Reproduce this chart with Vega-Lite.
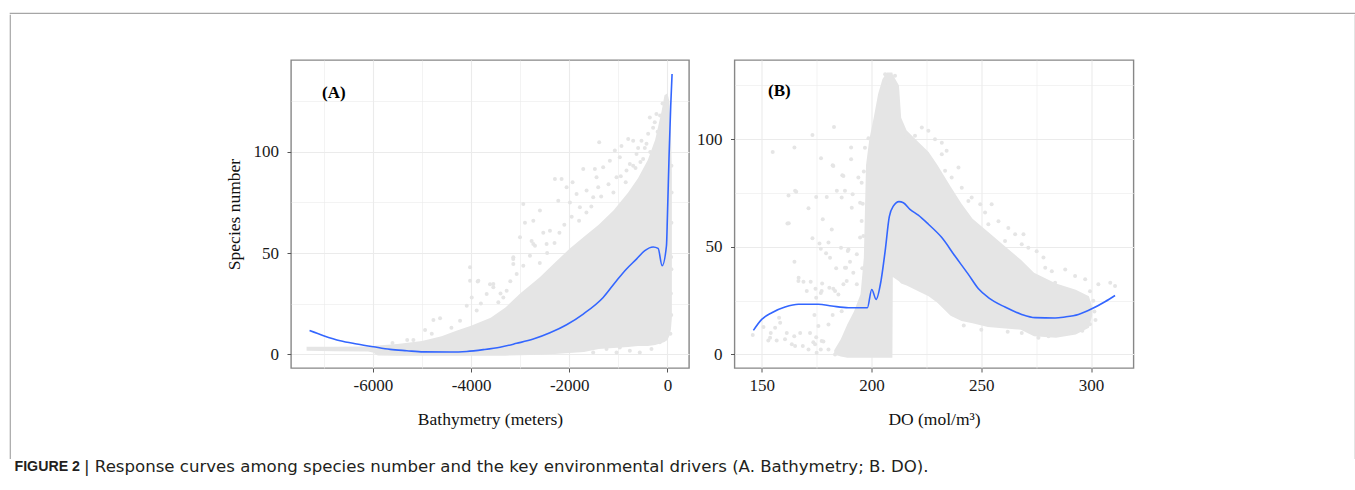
{
 "$schema": "https://vega.github.io/schema/vega-lite/v6.json",
 "background": "white",
 "padding": {"left": 9, "top": 12, "right": 0, "bottom": 0},
 "spacing": 0,
 "datasets": {
  "aArea": [
   {"x":-7350,"y":1.6,"y2":3.6},{"x":-6800,"y":1.4,"y2":3.6},{"x":-6100,"y":1.3,"y2":3.8},{"x":-6000,"y":0.8,"y2":4.0},
   {"x":-5900,"y":-0.7,"y2":4.2},{"x":-5500,"y":-0.8,"y2":5.0},{"x":-5000,"y":-0.8,"y2":6.5},{"x":-4600,"y":-0.8,"y2":8.8},
   {"x":-4300,"y":-0.8,"y2":11.5},{"x":-4000,"y":-0.8,"y2":14},{"x":-3600,"y":-0.8,"y2":18},{"x":-3300,"y":-0.8,"y2":23},
   {"x":-3000,"y":-0.6,"y2":30},{"x":-2600,"y":-0.4,"y2":38},{"x":-2300,"y":0,"y2":45},{"x":-2000,"y":0.5,"y2":52},
   {"x":-1700,"y":1,"y2":58},{"x":-1400,"y":2.5,"y2":64},{"x":-1100,"y":3,"y2":71},{"x":-800,"y":3.5,"y2":80},
   {"x":-600,"y":4,"y2":87},{"x":-400,"y":4,"y2":96},{"x":-250,"y":4.5,"y2":106},{"x":-120,"y":5.5,"y2":120},
   {"x":-60,"y":6,"y2":128},{"x":0,"y":7,"y2":129},{"x":40,"y":9,"y2":125},{"x":70,"y":12,"y2":110},{"x":90,"y":18,"y2":90}
  ],
  "aPts": [
   {"x":-4021,"y":42.9},{"x":-3865,"y":35.9},{"x":-4767,"y":16.8},{"x":-4631,"y":17.7},{"x":-4936,"y":11.9},{"x":-5174,"y":6.9},
   {"x":-3986,"y":28},{"x":-4088,"y":23.9},{"x":-4224,"y":16.5},{"x":-3614,"y":34.6},{"x":-3546,"y":33},{"x":-3140,"y":47},
   {"x":-3071,"y":39.6},{"x":-2936,"y":43.7},{"x":-2800,"y":48.7},{"x":-2698,"y":53.6},{"x":-2766,"y":56},{"x":-3275,"y":31.3},
   {"x":-3343,"y":28},{"x":-3444,"y":25.6},{"x":-3885,"y":21.5},{"x":-3682,"y":29.7},
   {"x":-2936,"y":74.3},{"x":-2902,"y":65},{"x":-2529,"y":60},{"x":-2393,"y":61},{"x":-2292,"y":86.6},{"x":-2156,"y":86.6},
   {"x":-2054,"y":82.5},{"x":-1932,"y":85},{"x":-1715,"y":91.6},{"x":-1478,"y":91.6},{"x":-1444,"y":87.5},{"x":-1390,"y":104.8},
   {"x":-1071,"y":100.7},{"x":-936,"y":103},{"x":-766,"y":94},{"x":-698,"y":105.6},{"x":-800,"y":106.4},{"x":-461,"y":102},
   {"x":-359,"y":117},{"x":-393,"y":109},{"x":-224,"y":118.8},{"x":-3139,"y":47.9},{"x":-2732,"y":54.5},{"x":-2597,"y":71},
   {"x":-2461,"y":54.5},{"x":-2224,"y":75.9},{"x":-1851,"y":79.2},{"x":-1647,"y":80.9},{"x":-1512,"y":77.6},{"x":-1309,"y":92.4},
   {"x":-1173,"y":95.7},{"x":-970,"y":97.4},{"x":-630,"y":99},{"x":-529,"y":105.6},{"x":-292,"y":112},{"x":-4020,"y":36.3},
   {"x":-3851,"y":36.3},{"x":-3546,"y":34.7},{"x":-3139,"y":44.6},{"x":-3003,"y":57.8},{"x":-2732,"y":66},{"x":-1986,"y":75},
   {"x":-1783,"y":72.6},{"x":-1410,"y":82.5},{"x":-1037,"y":87.5},{"x":-834,"y":90.8},{"x":-698,"y":93.2},{"x":-495,"y":96.5},
   {"x":-597,"y":102},{"x":-427,"y":104},{"x":-258,"y":114.7},
   {"x":-1513,"y":0.8},{"x":-1241,"y":2.5},{"x":-970,"y":3.3},{"x":-766,"y":1.6},{"x":-563,"y":0.8},{"x":-325,"y":2.5},
   {"x":-156,"y":5.8},{"x":-359,"y":6.6},{"x":-1037,"y":0.8},{"x":-1377,"y":4.1},
   {"x":81,"y":93.2},{"x":81,"y":65},{"x":80,"y":42},{"x":78,"y":19.3},{"x":75,"y":48},{"x":70,"y":30},{"x":85,"y":80},{"x":60,"y":10},
   {"x":-2600,"y":45},{"x":-2450,"y":50},{"x":-2300,"y":55},{"x":-2200,"y":60},{"x":-2100,"y":64},{"x":-1950,"y":68},
   {"x":-1800,"y":66},{"x":-1650,"y":70},{"x":-1550,"y":73},{"x":-1350,"y":78},{"x":-1200,"y":84},{"x":-1100,"y":80},
   {"x":-950,"y":88},{"x":-850,"y":85},{"x":-650,"y":92},{"x":-550,"y":95},{"x":-350,"y":100},{"x":-200,"y":110},
   {"x":-150,"y":118},{"x":-100,"y":124},{"x":-3200,"y":36},{"x":-3400,"y":30},{"x":-3800,"y":25},{"x":-4400,"y":13},
   {"x":-4800,"y":10},{"x":-5300,"y":7},{"x":-5600,"y":5.5}
  ],
  "aLine": [
   {"x":-7289,"y":11.6},{"x":-7004,"y":9.1},{"x":-6665,"y":6.6},{"x":-6326,"y":5.0},{"x":-5987,"y":3.6},{"x":-5648,"y":2.3},
   {"x":-5309,"y":1.65},{"x":-4970,"y":1.1},{"x":-4427,"y":1.0},{"x":-4088,"y":1.3},{"x":-3749,"y":2.2},{"x":-3410,"y":3.4},
   {"x":-3071,"y":5.3},{"x":-2732,"y":7.4},{"x":-2393,"y":10.5},{"x":-2054,"y":14.5},{"x":-1715,"y":19.8},{"x":-1309,"y":28},
   {"x":-1037,"y":36.3},{"x":-834,"y":42.1},{"x":-631,"y":47},{"x":-461,"y":51.2},{"x":-292,"y":53},{"x":-190,"y":52.3},
   {"x":-108,"y":43.7},{"x":-20,"y":53.6},{"x":0,"y":68.5},{"x":33,"y":98},{"x":67,"y":123},{"x":94,"y":138.6}
  ],
  "bArea": [
   {"x":183,"y":0,"y2":2},{"x":186,"y":-1,"y2":7},{"x":189,"y":-1.5,"y2":14},{"x":192,"y":-1.5,"y2":20},{"x":195,"y":-1.5,"y2":28},
   {"x":196.5,"y":-1.5,"y2":45},{"x":197.5,"y":-1.5,"y2":88},{"x":199,"y":-1.5,"y2":100},{"x":201,"y":-1.5,"y2":110},
   {"x":203,"y":-1.5,"y2":121},{"x":205,"y":-1.5,"y2":128},{"x":207,"y":-1.5,"y2":131},{"x":209.5,"y":-1.5,"y2":131},
   {"x":209.7,"y":36,"y2":130},{"x":212.5,"y":34,"y2":125},{"x":213.5,"y":33,"y2":110},{"x":216,"y":32,"y2":104},
   {"x":222,"y":29,"y2":98},{"x":226,"y":27,"y2":94},{"x":230,"y":24,"y2":88},{"x":236,"y":18,"y2":78},{"x":241,"y":15.5,"y2":70},
   {"x":246,"y":14.5,"y2":63},{"x":253,"y":12.7,"y2":57},{"x":261,"y":12,"y2":50},{"x":268,"y":11.5,"y2":44},{"x":274,"y":8.5,"y2":38},
   {"x":284,"y":7.8,"y2":33},{"x":293,"y":9.3,"y2":30},{"x":299,"y":12.4,"y2":27},{"x":300.5,"y":18,"y2":22}
  ],
  "bPts": [
   {"x":155,"y":94.1},{"x":177,"y":91.2},{"x":182.3,"y":87.9},{"x":162.2,"y":73.9},{"x":165.7,"y":75.6},{"x":174.8,"y":73.2},
   {"x":179.6,"y":73.2},{"x":171.3,"y":67.9},{"x":177.8,"y":62.8},{"x":184.2,"y":76},{"x":186.7,"y":83.3},{"x":162.3,"y":60.9},
   {"x":173.1,"y":54},{"x":176.3,"y":51.6},{"x":176.9,"y":49.1},{"x":179.3,"y":47},{"x":181.1,"y":44.9},{"x":183.9,"y":40},
   {"x":164.9,"y":43.1},{"x":166.8,"y":35.6},{"x":169,"y":33.8},{"x":172.3,"y":33.8},{"x":174.5,"y":30.5},{"x":177.5,"y":33},
   {"x":180.8,"y":31},{"x":182.6,"y":30.5},{"x":184.9,"y":27.9},{"x":174.8,"y":26.3},{"x":176.9,"y":28.6},{"x":167.5,"y":10},
   {"x":158.4,"y":14.7},{"x":154.1,"y":10},{"x":150.8,"y":12.7},{"x":145.9,"y":9},{"x":153,"y":6.5},{"x":156.8,"y":6.5},
   {"x":161.4,"y":10},{"x":164.8,"y":8.5},{"x":165.2,"y":3.9},{"x":168.7,"y":3.9},{"x":173.5,"y":5.7},{"x":174.8,"y":8},
   {"x":176.9,"y":2.3},{"x":178.1,"y":6},{"x":172,"y":10},{"x":174,"y":18.3},{"x":175.8,"y":13.2},{"x":180.4,"y":13.9},
   {"x":182.3,"y":18.3},{"x":186.4,"y":20.1},{"x":189.5,"y":48.8},{"x":188.4,"y":40.3},{"x":190.2,"y":43.1},{"x":188.7,"y":34.1},
   {"x":173.1,"y":102},{"x":182.9,"y":105.7},{"x":190.7,"y":96.1},{"x":190.7,"y":90.7},{"x":182.6,"y":87.6},{"x":187.2,"y":82.9},
   {"x":194,"y":82.2},{"x":195.5,"y":79.8},{"x":187.9,"y":76},{"x":191.4,"y":74.4},{"x":186.4,"y":72.9},{"x":191,"y":68.2},
   {"x":194.8,"y":70.5},{"x":195.5,"y":62},{"x":181.9,"y":58.1},{"x":180.4,"y":52},{"x":186.1,"y":49.6},{"x":189.2,"y":48.1},
   {"x":193.3,"y":46.5},{"x":194.8,"y":54.3},{"x":187.9,"y":40.3},{"x":191.7,"y":38},{"x":187.2,"y":32.6},{"x":183.4,"y":29.5},
   {"x":193.3,"y":32.6},{"x":165.2,"y":76},{"x":161.7,"y":60.8},{"x":166.7,"y":34.1},{"x":170.5,"y":29.5},{"x":177.3,"y":29.5},
   {"x":157.9,"y":17.1},{"x":156.1,"y":12.4},{"x":153.8,"y":7.8},{"x":160.6,"y":7},{"x":163.7,"y":4.7},{"x":174.3,"y":4.7},
   {"x":177.3,"y":6.2},{"x":171.3,"y":2.3},{"x":175,"y":0.8},{"x":180.4,"y":2.3},{"x":183.4,"y":0},{"x":164.9,"y":96.1},
   {"x":206.2,"y":130.2},{"x":210.7,"y":129.5},{"x":207.7,"y":125.6},{"x":222.9,"y":105.4},{"x":225.9,"y":103.9},{"x":228.9,"y":100},
   {"x":232,"y":98.4},{"x":234.2,"y":94.6},{"x":219.8,"y":101.6},{"x":215.3,"y":100.8},{"x":198.6,"y":100.5},{"x":197,"y":96},
   {"x":196.5,"y":85},{"x":196,"y":70},{"x":196.3,"y":55},{"x":195.8,"y":40},
   {"x":232,"y":93},{"x":239.6,"y":86.8},{"x":245.6,"y":72.9},{"x":249.5,"y":69.8},{"x":254.7,"y":69.8},{"x":257.8,"y":61.9},
   {"x":262.3,"y":58.8},{"x":269.2,"y":55.8},{"x":275.2,"y":48},{"x":278.3,"y":45},{"x":282.1,"y":38.7},{"x":288.2,"y":39.5},
   {"x":292.7,"y":36.4},{"x":297.3,"y":34.9},{"x":303.3,"y":32.6},{"x":308.7,"y":33.3},{"x":310.9,"y":31.8},{"x":286.6,"y":31},
   {"x":289.7,"y":27.9},{"x":283.6,"y":33.3},{"x":271.4,"y":49.6},{"x":265.4,"y":55.8},{"x":260.8,"y":52.7},{"x":253.2,"y":60.5},
   {"x":244.1,"y":71.3},{"x":241.1,"y":77.5},{"x":236.5,"y":82.2},{"x":233.5,"y":85.3},{"x":251.7,"y":65.9},{"x":268.4,"y":51.2},
   {"x":279.1,"y":40.3},{"x":299.5,"y":29.4},
   {"x":276,"y":7.7},{"x":268.4,"y":10},{"x":280.6,"y":8.5},{"x":290.7,"y":10},{"x":296,"y":11},{"x":299.5,"y":14},{"x":250,"y":11.5},
   {"x":242,"y":13.5},{"x":262,"y":10.5},{"x":301.5,"y":20},{"x":301,"y":25},{"x":302,"y":16}
  ],
  "bLine": [
   {"x":146.2,"y":11.2},{"x":150,"y":16.3},{"x":154.6,"y":19.4},{"x":160.6,"y":22},{"x":166.7,"y":23.3},{"x":175.8,"y":23.3},
   {"x":181.9,"y":22.5},{"x":189.5,"y":21.7},{"x":198.1,"y":21.7},{"x":200.1,"y":30.2},{"x":202.1,"y":25.6},{"x":204.3,"y":34.1},
   {"x":206.2,"y":48},{"x":208.1,"y":64},{"x":210,"y":69},{"x":212.5,"y":71},{"x":214.5,"y":70.5},{"x":217.5,"y":67.4},
   {"x":221.3,"y":64.7},{"x":225.9,"y":60.5},{"x":232,"y":54.3},{"x":238,"y":45.7},{"x":244.1,"y":37.2},{"x":248.7,"y":30.5},
   {"x":253.2,"y":26.4},{"x":260.8,"y":22},{"x":268.4,"y":18.6},{"x":274.5,"y":17.1},{"x":283.6,"y":16.9},{"x":288.1,"y":17.4},
   {"x":294.2,"y":18.6},{"x":300.3,"y":21.2},{"x":306.3,"y":24.5},{"x":310.9,"y":27.4}
  ],
  "labels": [
   {"panel":"A","x":-6794,"y":129.2,"t":"(A)"},
   {"panel":"B","x":158.0,"y":122.2,"t":"(B)"}
  ]
 },
 "vconcat": [
  {"width": 1345, "height": 0.001, "view": {"stroke": "#a6a6a6", "strokeWidth": 1.2}, "data": {"values": []}, "mark": "point", "encoding": {}},
  {"spacing": 213, "hconcat": [
    {"width": 0.001, "height": 443, "view": {"stroke": "#a6a6a6", "strokeWidth": 1.2}, "data": {"values": []}, "mark": "point", "encoding": {}},
    {"spacing": 219, "hconcat": [
      {"spacing": 0, "vconcat": [
        {"width": 1, "height": 44, "data": {"values": []}, "mark": "point", "encoding": {}},
        {"spacing": 5.5, "hconcat": [
          {"width": 398, "height": 308, "view": {"stroke": "#878787", "strokeWidth": 1.4},
           "layer": [
            {"data": {"name": "aArea"}, "mark": {"type": "area", "color": "#e5e5e5", "opacity": 1, "clip": true},
             "encoding": {
              "x": {"field": "x", "type": "quantitative", "title": "Bathymetry (meters)",
                    "scale": {"domain": [-7667, 439], "nice": false, "zero": false},
                    "axis": {"values": [-7000, -6000, -5000, -4000, -3000, -2000, -1000, 0],
                             "labelExpr": "datum.value % 2000 === 0 ? '' + datum.value : ''",
                             "tickOpacity": {"condition": {"test": "datum.value % 2000 === 0", "value": 1}, "value": 0},
                             "gridWidth": {"condition": {"test": "datum.value % 2000 === 0", "value": 1.1}, "value": 0.6}}},
              "y": {"field": "y", "type": "quantitative", "title": "Species number",
                    "scale": {"domain": [-6.9, 145.5], "nice": false, "zero": false},
                    "axis": {"values": [0, 25, 50, 75, 100, 125],
                             "labelExpr": "datum.value % 50 === 0 ? '' + datum.value : ''",
                             "tickOpacity": {"condition": {"test": "datum.value % 50 === 0", "value": 1}, "value": 0},
                             "gridWidth": {"condition": {"test": "datum.value % 50 === 0", "value": 1.1}, "value": 0.6}}},
              "y2": {"field": "y2"}
             }},
            {"data": {"name": "aPts"}, "mark": {"type": "circle", "size": 16, "color": "#e5e5e5", "opacity": 1, "clip": true},
             "encoding": {"x": {"field": "x", "type": "quantitative", "title": "Bathymetry (meters)"},
                          "y": {"field": "y", "type": "quantitative", "title": "Species number"}}},
            {"data": {"name": "aLine"}, "mark": {"type": "line", "color": "#3366ff", "strokeWidth": 1.6, "interpolate": "monotone", "clip": true},
             "encoding": {"x": {"field": "x", "type": "quantitative", "title": "Bathymetry (meters)"},
                          "y": {"field": "y", "type": "quantitative", "title": "Species number"}}},
            {"data": {"name": "labels"}, "transform": [{"filter": "datum.panel === 'A'"}],
             "mark": {"type": "text", "font": "Liberation Serif", "fontWeight": "bold", "fontSize": 17, "color": "#000000", "align": "center", "baseline": "middle"},
             "encoding": {"x": {"field": "x", "type": "quantitative", "title": "Bathymetry (meters)"},
                          "y": {"field": "y", "type": "quantitative", "title": "Species number"},
                          "text": {"field": "t"}}}
           ]},
          {"width": 399, "height": 308, "view": {"stroke": "#878787", "strokeWidth": 1.4},
           "layer": [
            {"data": {"name": "bArea"}, "mark": {"type": "area", "color": "#e5e5e5", "opacity": 1, "clip": true},
             "encoding": {
              "x": {"field": "x", "type": "quantitative", "title": "DO (mol/m³)",
                    "scale": {"domain": [137.6, 319.3], "nice": false, "zero": false},
                    "axis": {"values": [150, 175, 200, 225, 250, 275, 300],
                             "labelExpr": "datum.value % 50 === 0 ? '' + datum.value : ''",
                             "tickOpacity": {"condition": {"test": "datum.value % 50 === 0", "value": 1}, "value": 0},
                             "gridWidth": {"condition": {"test": "datum.value % 50 === 0", "value": 1.1}, "value": 0.6}}},
              "y": {"field": "y", "type": "quantitative", "title": null,
                    "scale": {"domain": [-6.3, 136.8], "nice": false, "zero": false},
                    "axis": {"values": [0, 25, 50, 75, 100, 125], "title": null,
                             "labelExpr": "datum.value % 50 === 0 ? '' + datum.value : ''",
                             "tickOpacity": {"condition": {"test": "datum.value % 50 === 0", "value": 1}, "value": 0},
                             "gridWidth": {"condition": {"test": "datum.value % 50 === 0", "value": 1.1}, "value": 0.6}}},
              "y2": {"field": "y2"}
             }},
            {"data": {"name": "bPts"}, "mark": {"type": "circle", "size": 16, "color": "#e5e5e5", "opacity": 1, "clip": true},
             "encoding": {"x": {"field": "x", "type": "quantitative", "title": "DO (mol/m³)"},
                          "y": {"field": "y", "type": "quantitative", "title": null}}},
            {"data": {"name": "bLine"}, "mark": {"type": "line", "color": "#3366ff", "strokeWidth": 1.6, "interpolate": "monotone", "clip": true},
             "encoding": {"x": {"field": "x", "type": "quantitative", "title": "DO (mol/m³)"},
                          "y": {"field": "y", "type": "quantitative", "title": null}}},
            {"data": {"name": "labels"}, "transform": [{"filter": "datum.panel === 'B'"}],
             "mark": {"type": "text", "font": "Liberation Serif", "fontWeight": "bold", "fontSize": 17, "color": "#000000", "align": "center", "baseline": "middle"},
             "encoding": {"x": {"field": "x", "type": "quantitative", "title": "DO (mol/m³)"},
                          "y": {"field": "y", "type": "quantitative", "title": null},
                          "text": {"field": "t"}}}
           ]}
        ]}
      ]},
      {"width": 0.001, "height": 443, "view": {"stroke": "#a6a6a6", "strokeWidth": 1.2}, "data": {"values": []}, "mark": "point", "encoding": {}}
    ]}
  ]},
  {"width": 0.001, "height": 14,
   "data": {"values": [{"a": "FIGURE 2", "b": "| Response curves among species number and the key environmental drivers (A. Bathymetry; B. DO)."}]},
   "layer": [
    {"mark": {"type": "text", "align": "left", "baseline": "middle", "font": "Liberation Sans", "fontSize": 14.2, "fontWeight": "bold", "dx": 4.5, "color": "#231f20"},
     "encoding": {"text": {"field": "a"}}},
    {"mark": {"type": "text", "align": "left", "baseline": "middle", "font": "DejaVu Sans", "fontSize": 16.6, "fontWeight": "normal", "dx": 74, "color": "#231f20"},
     "encoding": {"text": {"field": "b"}}}
   ]}
 ],
 "config": {
  "view": {"stroke": null},
  "axis": {"domain": false, "grid": true, "gridColor": "#ebebeb", "tickColor": "#555555", "tickSize": 4, "tickWidth": 1,
           "labelFont": "Liberation Serif", "labelFontSize": 17, "labelColor": "#1a1a1a", "labelFlush": false, "labelOverlap": false,
           "titleFont": "Liberation Serif", "titleFontSize": 17.5, "titleFontWeight": "normal", "titleColor": "#111111"},
  "axisX": {"labelPadding": 5, "titlePadding": 17},
  "axisY": {"labelPadding": 8.5, "titlePadding": 10}
 }
}
